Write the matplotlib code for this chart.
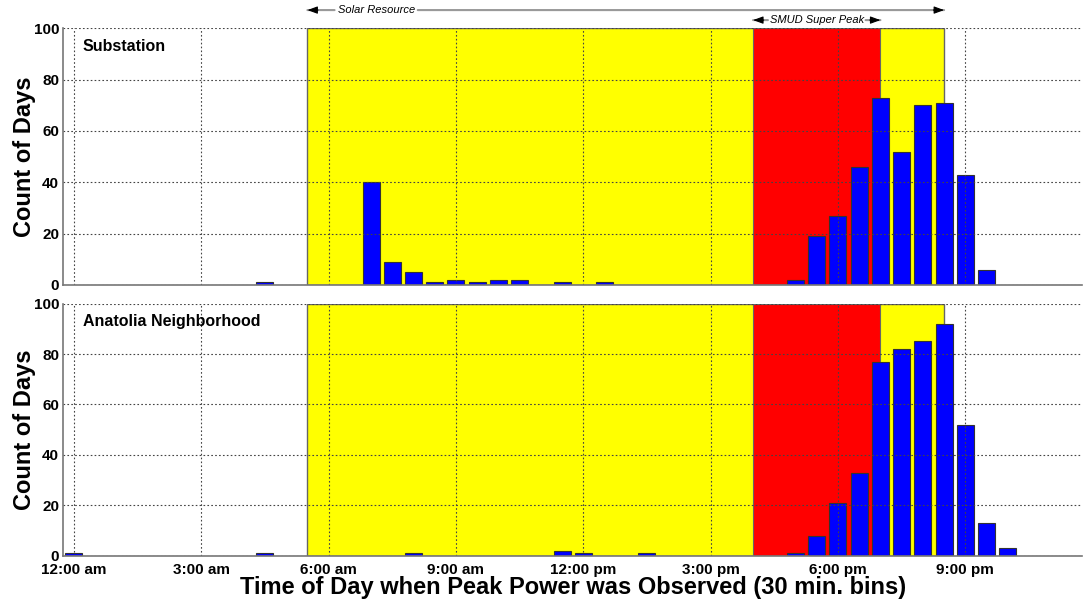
import numpy as np
import matplotlib
matplotlib.use('Agg')
import matplotlib.pyplot as plt
from matplotlib.transforms import blended_transform_factory

plt.rcParams['font.family'] = ['Liberation Sans', 'DejaVu Sans']

# 30-minute bins, hours from midnight
hours = np.arange(0, 24, 0.5)

# counts per bin (only non-zero bins listed)
sub_bins = [4.5, 7.0, 7.5, 8.0, 8.5, 9.0, 9.5, 10.0, 10.5, 11.5, 12.5,
            17.0, 17.5, 18.0, 18.5, 19.0, 19.5, 20.0, 20.5, 21.0, 21.5]
sub_counts = [1, 40, 9, 5, 1, 2, 1, 2, 2, 1, 1,
              2, 19, 27, 46, 73, 52, 70, 71, 43, 6]

ana_bins = [0.0, 4.5, 8.0, 11.5, 12.0, 13.5,
            17.0, 17.5, 18.0, 18.5, 19.0, 19.5, 20.0, 20.5, 21.0, 21.5, 22.0]
ana_counts = [1, 1, 1, 2, 1, 1,
              1, 8, 21, 33, 77, 82, 85, 92, 52, 13, 3]

tick_hours = [0, 3, 6, 9, 12, 15, 18, 21]
tick_labels = ['12:00 am', '3:00 am', '6:00 am', '9:00 am',
               '12:00 pm', '3:00 pm', '6:00 pm', '9:00 pm']

solar = (5.5, 20.5)
super_peak = (16, 19)

fig = plt.figure(figsize=(10.83, 6.01), dpi=100)
ax1 = fig.add_axes([0.0585, 0.5258, 0.9406, 0.4271])
ax2 = fig.add_axes([0.0585, 0.0754, 0.9406, 0.4193])

panels = [(ax1, sub_bins, sub_counts, 'Substation'),
          (ax2, ana_bins, ana_counts, 'Anatolia Neighborhood')]

for ax, bins, counts, name in panels:
    ax.axvspan(solar[0], solar[1], facecolor='#ffff00', edgecolor='#666666', lw=1, zorder=1)
    ax.axvspan(super_peak[0], super_peak[1], facecolor='#ff0000', edgecolor='#666666', lw=0.8, zorder=1)
    ax.bar(bins, counts, width=0.4, color='#0000ff', edgecolor='#333333', lw=0.8, zorder=2)
    ax.set_xlim(-0.25, 23.75)
    ax.set_ylim(0, 100)
    ax.set_yticks([0, 20, 40, 60, 80, 100])
    ax.set_xticks(tick_hours)
    ax.grid(True, color='#444444', linestyle=(0, (1.5, 2)), lw=0.8, zorder=3)
    ax.set_axisbelow(False)
    for s in ['top', 'right']:
        ax.spines[s].set_visible(False)
    for s in ['left', 'bottom']:
        ax.spines[s].set_color('#777777')
        ax.spines[s].set_linewidth(1.2)
        ax.spines[s].set_zorder(4)
    ax.tick_params(length=0, pad=3, labelsize=11)
    for lab in ax.get_yticklabels():
        lab.set_fontweight('bold')
    ax.set_ylabel('Count of Days', fontsize=17, fontweight='bold')
    ax.yaxis.set_label_coords(-0.027, 0.5)
    ax.text(0.019, 0.93, name, transform=ax.transAxes, fontsize=11.5,
            fontweight='bold', va='center', ha='left', zorder=5)

ax1.set_xticklabels([])
ax2.set_xticklabels(tick_labels, fontweight='bold')
ax2.tick_params(axis='x', pad=5.5)
ax2.set_xlabel('Time of Day when Peak Power was Observed (30 min. bins)',
               fontsize=17, fontweight='bold', labelpad=-1)

# range annotations above the top panel
tr = blended_transform_factory(ax1.transData, ax1.transAxes)


def span_label(x0, x1, xc, y, label, half_gap):
    ax1.text(xc, y, label, transform=tr, fontsize=8, style='italic',
             ha='center', va='center', clip_on=False)
    for xa, xb in [(xc - half_gap, x0), (xc + half_gap, x1)]:
        ax1.annotate('', xy=(xb, y), xytext=(xa, y), xycoords=tr, textcoords=tr,
                     arrowprops=dict(arrowstyle='-', color='#999999', lw=1.5,
                                     shrinkA=0, shrinkB=0))
        d = 0.25 if xb > xa else -0.25
        ax1.annotate('', xy=(xb, y), xytext=(xb - d, y), xycoords=tr, textcoords=tr,
                     arrowprops=dict(arrowstyle='-|>,head_length=0.6,head_width=0.22',
                                     color='black', lw=0.8, shrinkA=0, shrinkB=0))


span_label(solar[0], solar[1], 7.12, 1.071, 'Solar Resource', 0.98)
span_label(super_peak[0], super_peak[1], 17.5, 1.032, 'SMUD Super Peak', 1.15)

fig.savefig('out.png', dpi=100)
